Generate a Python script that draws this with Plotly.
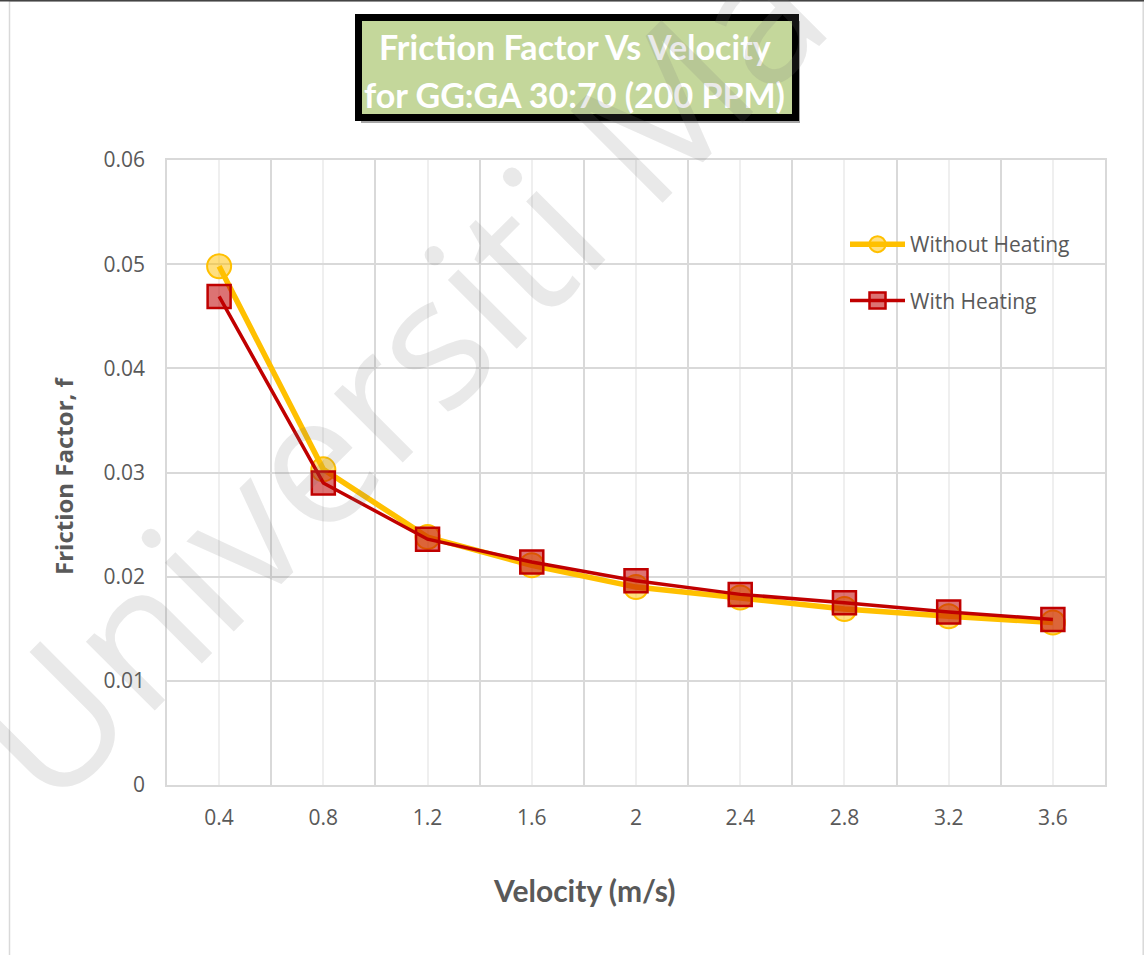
import plotly.graph_objects as go

# Velocity categories (m/s) and friction factor series
velocity = [0.4, 0.8, 1.2, 1.6, 2.0, 2.4, 2.8, 3.2, 3.6]
velocity_labels = ["0.4", "0.8", "1.2", "1.6", "2", "2.4", "2.8", "3.2", "3.6"]
f_without_heating = [0.0498, 0.0303, 0.0238, 0.0211, 0.0190, 0.0180, 0.0169, 0.0162, 0.0156]
f_with_heating = [0.0469, 0.0290, 0.0236, 0.0214, 0.0196, 0.0183, 0.0175, 0.0166, 0.0159]
y_ticks = [0, 0.01, 0.02, 0.03, 0.04, 0.05, 0.06]
y_tick_labels = ["0", "0.01", "0.02", "0.03", "0.04", "0.05", "0.06"]

W, H = 1144, 955
ML, MR, MT, MB = 167, 39, 160, 170
PW, PH = W - ML - MR, H - MT - MB


def px(x):
    return (x - ML) / PW


def py(y):
    return (H - MB - y) / PH


GRAY_TEXT = "#595959"
GRID = "#d9d9d9"
TICK_FONT = dict(family="Open Sans", size=21, color=GRAY_TEXT)

# category boundaries for the main vertical grid
step = velocity[1] - velocity[0]
boundaries = [round(velocity[0] - step / 2 + i * step, 3) for i in range(len(velocity) + 1)]

fig = go.Figure()
fig.add_trace(go.Scatter(
    x=velocity, y=f_without_heating, name="Without Heating",
    mode="lines+markers", legendgroup="a",
    line=dict(color="#FFC000", width=5.5),
    marker=dict(symbol="circle", size=24, color="rgba(255,192,0,0.5)",
                line=dict(color="#FFC000", width=2)),
))
fig.add_trace(go.Scatter(
    x=velocity, y=f_with_heating, name="With Heating",
    mode="lines+markers", legendgroup="b",
    line=dict(color="#C00000", width=3.5),
    marker=dict(symbol="square", size=23, color="rgba(192,0,0,0.55)",
                line=dict(color="#C00000", width=2.5)),
))

fig.update_xaxes(
    range=[boundaries[0], boundaries[-1]],
    tickvals=velocity, ticktext=velocity_labels,
    showgrid=True, gridcolor="#efefef", gridwidth=1.5,
    minor=dict(tickvals=boundaries, showgrid=True, gridcolor=GRID, gridwidth=1.5),
    showline=True, linecolor=GRID, linewidth=1.5, mirror=True,
    zeroline=False, ticks="", ticklabelstandoff=13,
    tickfont=TICK_FONT,
)
fig.update_yaxes(
    range=[0, 0.06], tickvals=y_ticks, ticktext=y_tick_labels,
    showgrid=True, gridcolor=GRID, gridwidth=1.5,
    showline=True, linecolor=GRID, linewidth=1.5, mirror=True,
    zeroline=False, ticks="", ticklabelstandoff=16,
    tickfont=TICK_FONT,
)

shapes = [
    # outer chart frame
    dict(type="rect", xref="paper", yref="paper",
         x0=px(9.5), x1=px(1143.2), y0=py(960), y1=py(1),
         line=dict(color=GRID, width=1.5), fillcolor="rgba(0,0,0,0)", layer="below"),
    dict(type="line", xref="paper", yref="paper",
         x0=px(0), x1=px(W), y0=py(0.8), y1=py(0.8),
         line=dict(color="#444444", width=1.5)),
    # title box shadow and box
    dict(type="rect", xref="paper", yref="paper",
         x0=px(361), x1=px(800), y0=py(123), y1=py(21),
         line=dict(width=0), fillcolor="rgba(0,0,0,0.35)"),
    dict(type="rect", xref="paper", yref="paper",
         x0=px(358.5), x1=px(795.5), y0=py(117.5), y1=py(17.5),
         line=dict(color="#000000", width=7), fillcolor="#C4D79B"),
]

TITLE_FONT = dict(family="Lato", size=34, color="#FFFFFF")
annotations = [
    dict(text="<b>Friction Factor Vs Velocity</b>", x=px(575), y=py(47),
         xref="paper", yref="paper", showarrow=False, font=TITLE_FONT,
         xanchor="center", yanchor="middle"),
    dict(text="<b>for GG:GA 30:70 (200 PPM)</b>", x=px(574), y=py(94),
         xref="paper", yref="paper", showarrow=False, font=TITLE_FONT,
         xanchor="center", yanchor="middle"),
    dict(text="<b>Friction Factor, f</b>", x=px(63), y=py(476),
         xref="paper", yref="paper", showarrow=False, textangle=-90,
         font=dict(family="Open Sans", size=24, color=GRAY_TEXT),
         xanchor="center", yanchor="middle"),
    dict(text="<b>Velocity (m/s)</b>", x=px(584), y=py(890),
         xref="paper", yref="paper", showarrow=False,
         font=dict(family="Lato", size=30, color=GRAY_TEXT),
         xanchor="center", yanchor="middle"),
    # repository watermark
    dict(text="Universiti Ma", x=px(393), y=py(372),
         xref="paper", yref="paper", showarrow=False, textangle=-45,
         font=dict(family="Open Sans", size=182, color="rgba(120,120,120,0.16)"),
         xanchor="center", yanchor="middle"),
]

fig.update_layout(
    width=W, height=H,
    margin=dict(l=ML, r=MR, t=MT, b=MB),
    paper_bgcolor="#FFFFFF", plot_bgcolor="#FFFFFF",
    shapes=shapes, annotations=annotations,
    showlegend=True,
    legend=dict(x=px(845), y=py(224), xanchor="left", yanchor="top",
                bgcolor="rgba(0,0,0,0)", tracegroupgap=26, itemwidth=55,
                font=dict(family="Open Sans", size=21, color=GRAY_TEXT)),
)

fig.write_html("out.html")
